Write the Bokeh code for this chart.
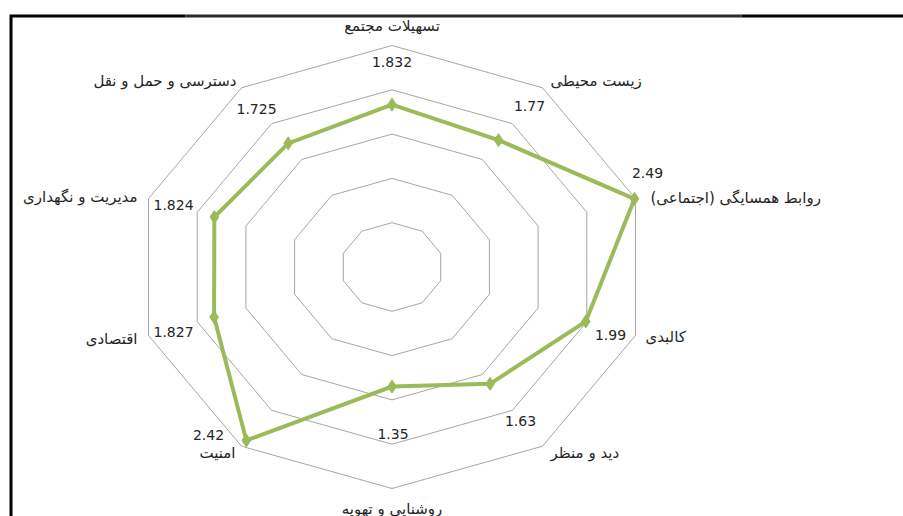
import numpy as np
from bokeh.plotting import figure
from bokeh.core.properties import value
from bokeh.embed import file_html
from bokeh.resources import INLINE

# ---- data ----
categories = [
    "تسهیلات مجتمع",
    "زیست محیطی",
    "روابط همسایگی (اجتماعی)",
    "کالبدی",
    "دید و منظر",
    "روشنایی و تهویه",
    "امنیت",
    "اقتصادی",
    "مدیریت و نگهداری",
    "دسترسی و حمل و نقل",
]
values = [1.832, 1.77, 2.49, 1.99, 1.63, 1.35, 2.42, 1.827, 1.824, 1.725]
value_text = ["1.832", "1.77", "2.49", "1.99", "1.63", "1.35", "2.42", "1.827", "1.824", "1.725"]
ring_levels = [0.5, 1.0, 1.5, 2.0, 2.5]

# ---- layout constants ----
W, H = 903, 516
sx, sy = 256 / 2.5, 221.5 / 2.5      # px per unit
cx_f, cy_f = 391.5, 266.5             # centre in frame px (from left / top)
xs = -cx_f / sx
xe = xs + W / sx
ye = cy_f / sy
ys = ye - H / sy

n = len(categories)
ang = np.deg2rad(90 - 360.0 / n * np.arange(n))
rmax = ring_levels[-1]

p = figure(width=W, height=H, x_range=(xs, xe), y_range=(ys, ye),
           output_backend="svg", toolbar_location=None,
           min_border=0, outline_line_color=None)
p.axis.visible = False
p.grid.visible = False
p.background_fill_color = "white"
p.border_fill_color = "white"

# grid rings
for r in ring_levels:
    xr = list(r * np.cos(ang)) + [r * np.cos(ang[0])]
    yr = list(r * np.sin(ang)) + [r * np.sin(ang[0])]
    p.line(xr, yr, line_color="#a6a6a6", line_width=1)

# series
vx = np.array(values) * np.cos(ang)
vy = np.array(values) * np.sin(ang)
p.line(list(vx) + [vx[0]], list(vy) + [vy[0]], line_color="#9BBB59", line_width=4,
       line_join="miter")
p.scatter(vx, vy, marker="diamond", size=13, fill_color="#9BBB59", line_color="#9BBB59")

# label anchors at outer vertices
ox = rmax * np.cos(ang)
oy = rmax * np.sin(ang)

FONT = value("DejaVu Sans")
cat_align = ["center", "left", "left", "left", "left", "center", "right", "right", "right", "right"]
cat_dx = [0, 8, 15, 10, 8, 0, -6, -11, -11, -5]
cat_dy = [-20, -7, -1, 2, 7, 20, 7, 4, -2, -7]
for i in range(n):
    p.text(x=[ox[i]], y=[oy[i]], text=[categories[i]], x_offset=cat_dx[i], y_offset=cat_dy[i],
           text_align=cat_align[i], text_baseline="middle", text_font=FONT,
           text_font_size="15px", text_color="#262626")

val_dx = [0, -13, 12, -25, -22, 1, -33, 25, 25, 15]
val_dy = [16, 18, -26, 0, -25, -55, -11, -3, 6, 21]
p.text(x=list(ox), y=list(oy), text=value_text, x_offset=val_dx, y_offset=val_dy,
       text_align="center", text_baseline="middle", text_font=FONT,
       text_font_size="14px", text_color="#262626")

# frame border (top & left)
xL = xs + 10.5 / sx
yT = ye - 15.5 / sy
xA = xs + 185 / sx
xB = xs + 741 / sx
p.line([xL, xL, xA], [ys - 1, yT, yT], line_color="black", line_width=3, line_join="miter")
p.line([xA, xB], [yT, yT], line_color="#2a2a2a", line_width=3)
p.line([xB, xe + 1], [yT, yT], line_color="black", line_width=3)

open("out.html", "w").write(file_html(p, INLINE))
